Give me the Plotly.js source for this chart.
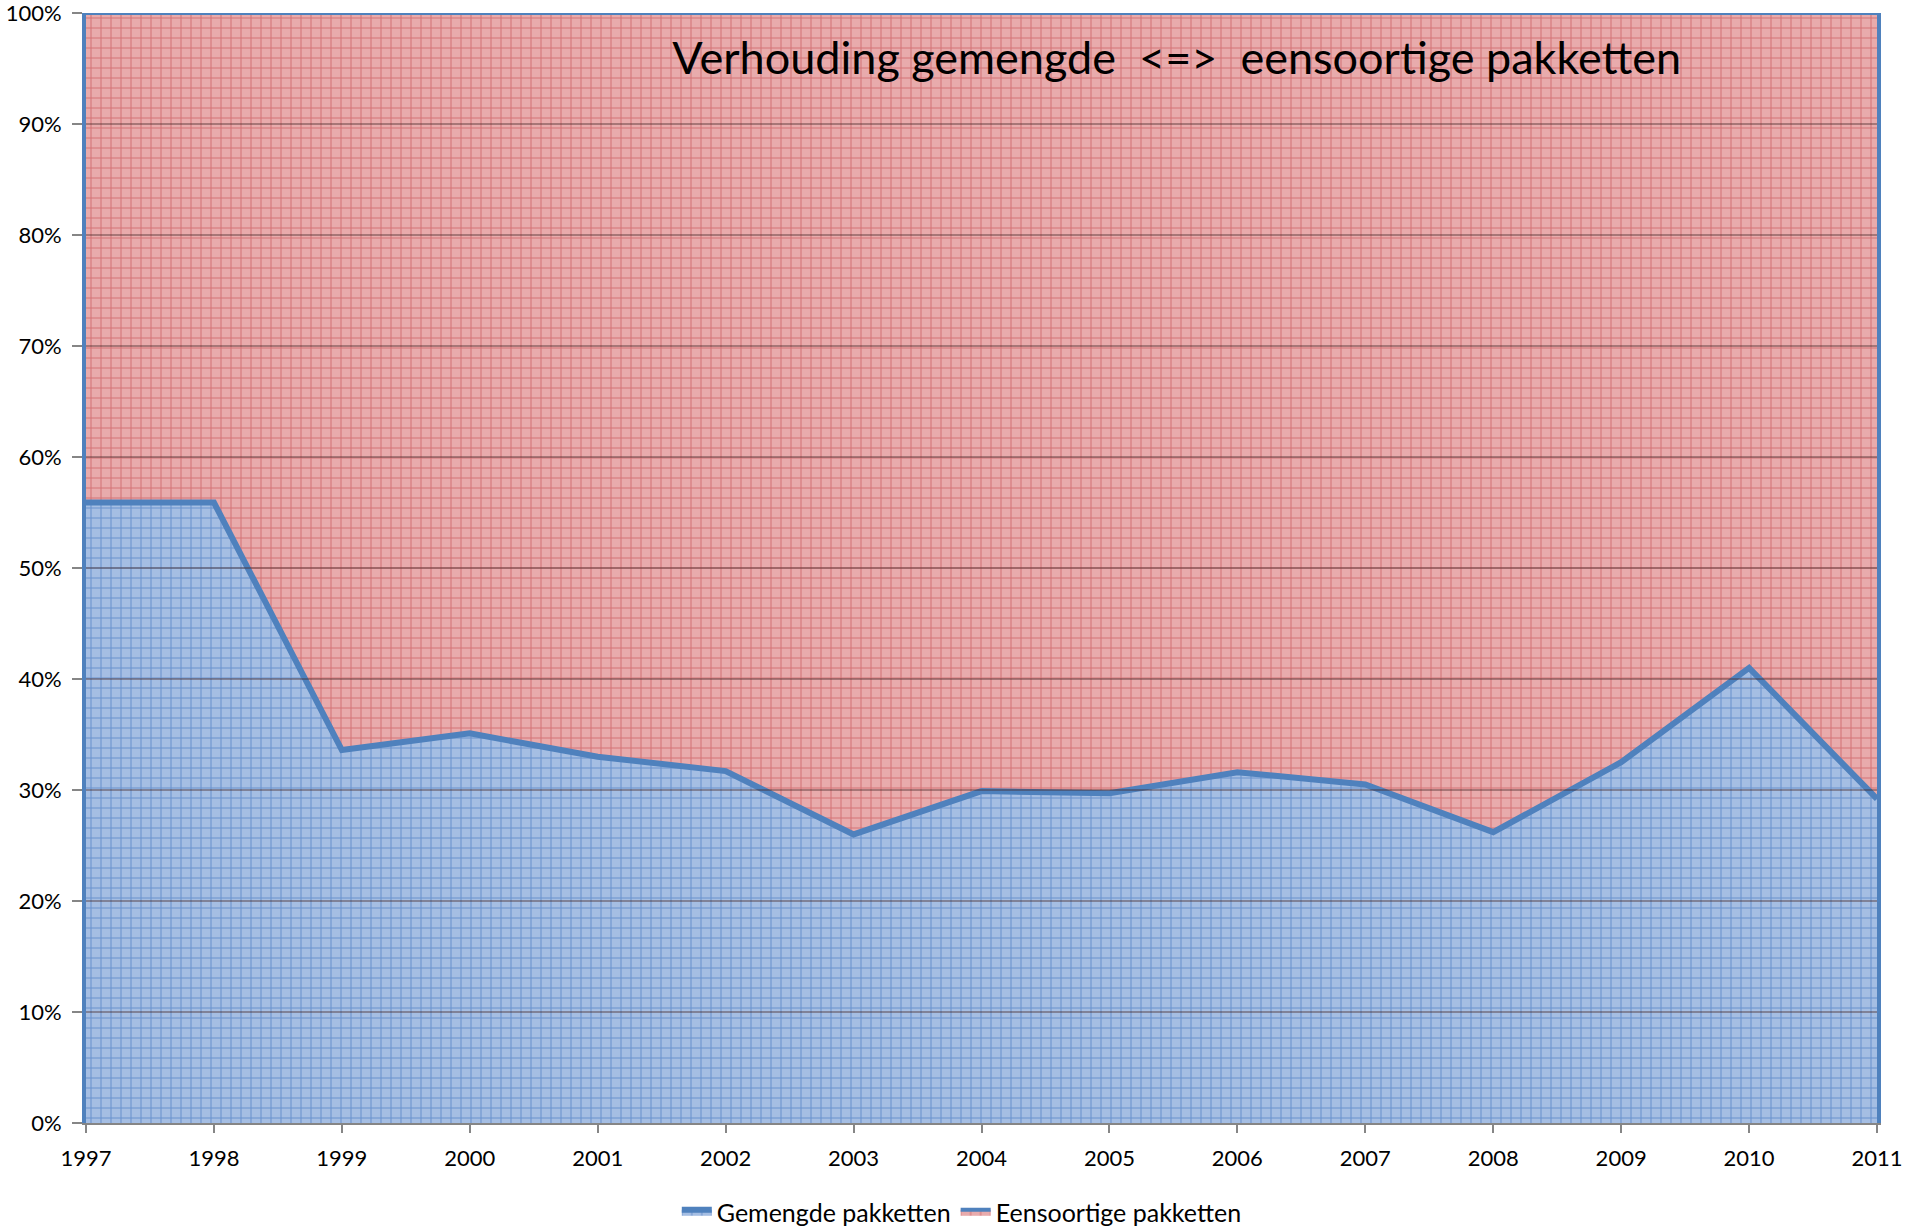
<!DOCTYPE html>
<html>
<head>
<meta charset="utf-8">
<script src="https://cdn.plot.ly/plotly-3.0.1.min.js"></script>
<style>html,body{margin:0;padding:0;background:#fff;}#chart{width:1905px;height:1229px;}</style>
</head>
<body>
<div id="chart"></div>
<script>
const years = [1997,1998,1999,2000,2001,2002,2003,2004,2005,2006,2007,2008,2009,2010,2011];
const gemengde = [55.9,55.9,33.6,35.1,33.0,31.7,26.0,29.9,29.7,31.6,30.5,26.2,32.5,41.0,29.2];
const eensoortige = [44.1,44.1,66.4,64.9,67.0,68.3,74.0,70.1,70.3,68.4,69.5,73.8,67.5,59.0,70.8];
const yTicks = [0,10,20,30,40,50,60,70,80,90,100];
const seriesNames = ['Gemengde pakketten','Eensoortige pakketten'];
const chartTitle = 'Verhouding gemengde&nbsp;&nbsp;&lt;=&gt;&nbsp;&nbsp;eensoortige pakketten';

const FONT = 'Lato, "Liberation Sans", sans-serif';
const traces = [
  {
    x: years, y: gemengde, name: seriesNames[0], type: 'scatter', mode: 'lines',
    stackgroup: 'one', groupnorm: 'percent',
    line: {color: '#4F81BD', width: 6},
    fillcolor: '#A5BEE3',
    fillpattern: {shape: '+', size: 10, solidity: 0.2, fgcolor: '#6A93CE', bgcolor: '#A5BEE3', fillmode: 'replace'}
  },
  {
    x: years, y: eensoortige, name: seriesNames[1], type: 'scatter', mode: 'lines',
    stackgroup: 'one',
    line: {color: '#4F81BD', width: 4},
    fillcolor: '#E8ABAC',
    fillpattern: {shape: '+', size: 10, solidity: 0.2, fgcolor: '#D47477', bgcolor: '#E8ABAC', fillmode: 'replace'}
  }
];

const gridShapes = yTicks.filter(v => v > 0 && v < 100).map(v => ({
  type: 'line', xref: 'paper', yref: 'y', x0: 0, x1: 1, y0: v, y1: v,
  layer: 'above', line: {color: 'rgba(70,40,40,0.4)', width: 2}
}));

const layout = {
  width: 1905, height: 1229,
  margin: {l: 86, r: 28, t: 13, b: 106, autoexpand: false},
  paper_bgcolor: '#ffffff', plot_bgcolor: '#ffffff',
  font: {family: FONT, color: '#000000'},
  title: {
    text: chartTitle, xref: 'paper', x: 0.609, xanchor: 'center',
    yref: 'container', y: 1 - 58/1229, yanchor: 'middle',
    font: {family: FONT, size: 45, color: '#000000'}
  },
  showlegend: true,
  legend: {
    orientation: 'h', x: 0.489, xanchor: 'center',
    yref: 'container', y: 1 - 1212/1229, yanchor: 'middle',
    font: {family: FONT, size: 25, color: '#000000'},
    traceorder: 'normal', itemwidth: 30
  },
  xaxis: {
    type: 'linear', range: [1997, 2011], tickmode: 'array', tickvals: years, ticktext: years.map(String),
    showgrid: false, zeroline: false,
    showline: true, linecolor: '#868686', linewidth: 2,
    ticks: 'outside', ticklen: 8, tickwidth: 2, tickcolor: '#868686',
    tickfont: {family: FONT, size: 22, color: '#000000'},
    ticklabelstandoff: 7, ticklabeloverflow: 'allow'
  },
  yaxis: {
    range: [0, 100], tickmode: 'array', tickvals: yTicks, ticktext: yTicks.map(v => v + '%'),
    showgrid: false, zeroline: false,
    showline: true, linecolor: '#4F81BD', linewidth: 4, mirror: true,
    ticks: 'outside', ticklen: 10, tickwidth: 2, tickcolor: '#868686',
    tickfont: {family: FONT, size: 22, color: '#000000'},
    ticklabelstandoff: 6, ticklabeloverflow: 'allow'
  },
  shapes: gridShapes
};

Plotly.newPlot('chart', traces, layout, {displayModeBar: false, staticPlot: true});
</script>
</body>
</html>
